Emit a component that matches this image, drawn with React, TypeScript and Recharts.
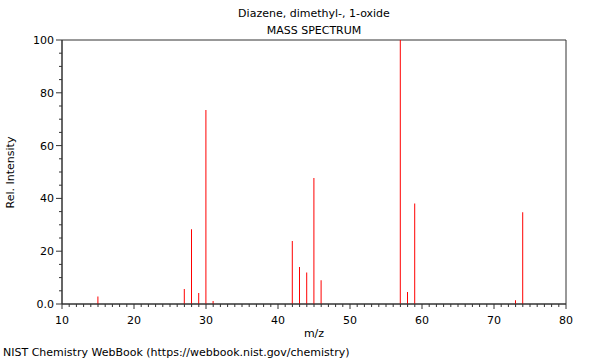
import { BarChart, Bar, XAxis, YAxis, ReferenceArea } from "recharts";

// m/z values and relative intensities
const mz = [15, 27, 28, 29, 30, 31, 42, 43, 44, 45, 46, 57, 58, 59, 73, 74];
const intensity = [2.8, 5.7, 28.3, 4.2, 73.5, 1.1, 23.9, 14.0, 11.9, 47.7, 9.0, 100, 4.5, 38.1, 1.4, 34.8];

const xTicks = Array.from({ length: 71 }, (_, i) => 10 + i);
const yTicks = Array.from({ length: 21 }, (_, i) => i * 5);

const title = "Diazene, dimethyl-, 1-oxide";
const subtitle = "MASS SPECTRUM";
const footer = "NIST Chemistry WebBook (https://webbook.nist.gov/chemistry)";

const FONT = "'DejaVu Sans', sans-serif";
const AXIS = "#333";

const data = mz.map((m, i) => ({ mz: m, rel: intensity[i] }));

function XTick(props: any) {
  const { x, y, payload } = props;
  const v = payload.value as number;
  const major = v % 10 === 0;
  return (
    <g>
      <line x1={x} x2={x} y1={y} y2={y + (major ? 5 : 3)} stroke={AXIS} />
      {major && (
        <text x={x} y={y + 20} textAnchor="middle" fontSize={11} fontFamily={FONT} fill="#000">
          {v}
        </text>
      )}
    </g>
  );
}

function YTick(props: any) {
  const { x, y, payload } = props;
  const v = payload.value as number;
  const major = v % 20 === 0;
  return (
    <g>
      <line x1={x - (major ? 6 : 3)} x2={x} y1={y} y2={y} stroke={AXIS} />
      {major && (
        <text x={x - 8} y={y + 4} textAnchor="end" fontSize={11} fontFamily={FONT} fill="#000">
          {v === 0 ? "0.0" : v}
        </text>
      )}
    </g>
  );
}

const label = (top: number, left: number, text: string, extra: any = {}) => (
  <div
    style={{
      position: "absolute",
      top,
      left,
      fontFamily: FONT,
      fontSize: 11,
      lineHeight: "13px",
      whiteSpace: "nowrap",
      color: "#000",
      ...extra,
    }}
  >
    {text}
  </div>
);

export default function App() {
  return (
    <div style={{ position: "absolute", left: 0, top: 0, width: 600, height: 360, background: "#fff" }}>
      <BarChart
        width={600}
        height={360}
        data={data}
        margin={{ top: 40, right: 34, bottom: 0, left: 0 }}
      >
        <XAxis
          dataKey="mz"
          type="number"
          domain={[10, 80]}
          ticks={xTicks}
          interval={0}
          allowDataOverflow
          tickLine={false}
          tickSize={0}
          tickMargin={0}
          axisLine={{ stroke: AXIS }}
          tick={<XTick />}
          height={56}
        />
        <YAxis
          type="number"
          domain={[0, 100]}
          ticks={yTicks}
          interval={0}
          tickLine={false}
          tickSize={0}
          tickMargin={0}
          axisLine={{ stroke: AXIS }}
          tick={<YTick />}
          width={62}
        />
        <ReferenceArea x1={10} x2={80} y1={0} y2={100} fill="none" stroke={AXIS} />
        <Bar dataKey="rel" fill="#ff0000" barSize={1} isAnimationActive={false} />
      </BarChart>
      {label(7, 0, title, { width: 628, textAlign: "center" })}
      {label(24, 0, subtitle, { width: 628, textAlign: "center" })}
      {label(327, 0, "m/z", { width: 628, textAlign: "center" })}
      {label(346, 3, footer)}
      {label(166, -30, "Rel. Intensity", { width: 80, textAlign: "center", transform: "rotate(-90deg)" })}
    </div>
  );
}
